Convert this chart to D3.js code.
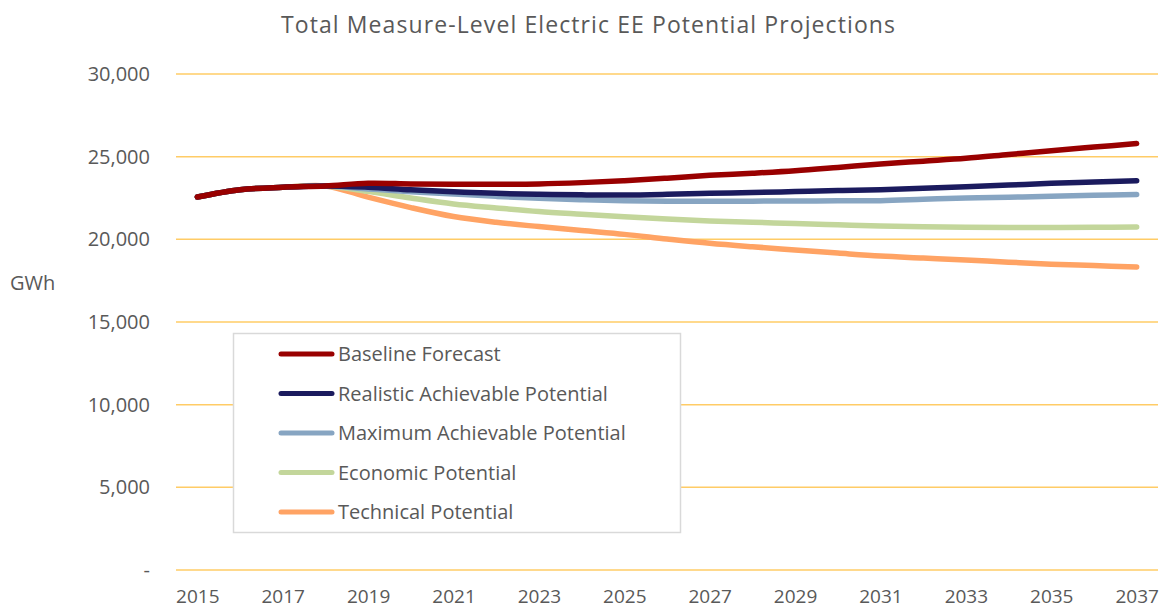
<!DOCTYPE html>
<html>
<head>
<meta charset="utf-8">
<script src="https://cdn.jsdelivr.net/npm/d3@7"></script>
<style>
  body { margin: 0; background: #fff; }
  text { font-family: "Open Sans", "Noto Sans", sans-serif; fill: #595959; }
</style>
</head>
<body>
<div id="chart"></div>
<script>
const years = d3.range(2015, 2038)
const tickYears = [2015, 2017, 2019, 2021, 2023, 2025, 2027, 2029, 2031, 2033, 2035, 2037]
const yTicks = [0, 5000, 10000, 15000, 20000, 25000, 30000]

const seriesNames = ['Baseline Forecast', 'Realistic Achievable Potential', 'Maximum Achievable Potential', 'Economic Potential', 'Technical Potential']
const seriesColors = ['#990000', '#1b1b5e', '#87a5c2', '#c3d69b', '#ffa364']

const baseline = [22560, 23000, 23150, 23230, 23390, 23350, 23330, 23330, 23350, 23430, 23550, 23700, 23870, 24000, 24150, 24350, 24560, 24730, 24900, 25130, 25360, 25580, 25790]
const realistic = [22560, 23000, 23150, 23230, 23150, 23000, 22880, 22780, 22720, 22690, 22680, 22720, 22780, 22830, 22890, 22950, 23000, 23090, 23180, 23280, 23390, 23470, 23550]
const maximum = [22560, 23000, 23150, 23230, 23050, 22880, 22740, 22600, 22480, 22400, 22340, 22310, 22300, 22310, 22320, 22330, 22340, 22420, 22500, 22550, 22600, 22660, 22710]
const economic = [22560, 23000, 23150, 23230, 22900, 22500, 22140, 21900, 21680, 21520, 21370, 21230, 21110, 21030, 20960, 20880, 20810, 20760, 20730, 20720, 20720, 20730, 20750]
const technical = [22560, 23000, 23150, 23230, 22550, 21920, 21380, 21030, 20770, 20530, 20300, 20020, 19760, 19550, 19360, 19170, 18990, 18870, 18750, 18620, 18500, 18410, 18330]

const allSeries = [baseline, realistic, maximum, economic, technical]

const w = 1162
const h = 610
const plotLeft = 176, plotRight = 1158, plotTop = 74, plotBottom = 570

const svg = d3.select('#chart')
    .append('svg')
    .attr('width', w)
    .attr('height', h)

const xScale = d3.scalePoint()
    .domain(years)
    .range([plotLeft, plotRight])
    .padding(0.5)

const yScale = d3.scaleLinear()
    .domain([0, 30000])
    .range([plotBottom, plotTop])

// title
svg.append('text')
    .attr('x', 588)
    .attr('y', 33)
    .attr('text-anchor', 'middle')
    .attr('font-size', '23px')
    .attr('textLength', 614)
    .text('Total Measure-Level Electric EE Potential Projections')

// gridlines
svg.append('g')
    .selectAll('line')
    .data(yTicks)
    .enter()
    .append('line')
    .attr('x1', plotLeft)
    .attr('x2', plotRight)
    .attr('y1', d => yScale(d))
    .attr('y2', d => yScale(d))
    .attr('stroke', '#ffcc66')
    .attr('stroke-width', 1.5)

// y axis labels
const yAxis = svg.append('g')
    .attr('transform', 'translate(' + (plotLeft - 23) + ',0)')
    .call(d3.axisLeft(yScale)
        .tickValues(yTicks)
        .tickSize(0)
        .tickFormat(d => d === 0 ? '-' : d3.format(',')(d)))
yAxis.select('.domain').remove()
yAxis.selectAll('text')
    .attr('font-size', '20px')
    .attr('font-family', '"Open Sans", sans-serif')
    .attr('fill', '#595959')

// x axis labels
const xAxis = svg.append('g')
    .attr('transform', 'translate(0,' + (plotBottom + 16) + ')')
    .call(d3.axisBottom(xScale)
        .tickValues(tickYears)
        .tickSize(0))
xAxis.select('.domain').remove()
xAxis.selectAll('text')
    .attr('font-size', '19px')
    .attr('font-family', '"Open Sans", sans-serif')
    .attr('fill', '#595959')

svg.append('text')
    .attr('x', 10)
    .attr('y', 290)
    .attr('font-size', '20px')
    .text('GWh')

// lines, drawn from the lowest series up so baseline sits on top
const line = d3.line()
    .x((d, i) => xScale(years[i]))
    .y(d => yScale(d))
    .curve(d3.curveCatmullRom.alpha(0.5))

for (let i = allSeries.length - 1; i >= 0; i--) {
    svg.append('path')
        .datum(allSeries[i])
        .attr('d', line)
        .attr('fill', 'none')
        .attr('stroke', seriesColors[i])
        .attr('stroke-width', 5.5)
        .attr('stroke-linecap', 'round')
        .attr('stroke-linejoin', 'round')
}

// legend
svg.append('rect')
    .attr('x', 233.5)
    .attr('y', 333.5)
    .attr('width', 447)
    .attr('height', 199)
    .attr('fill', '#fff')
    .attr('stroke', '#d9d9d9')
    .attr('stroke-width', 1.5)

const entries = svg.selectAll('.entry')
    .data(seriesNames)
    .enter()
    .append('g')
    .attr('class', 'entry')
    .attr('transform', (d, i) => 'translate(0,' + (354 + i * 39.5) + ')')

entries.append('line')
    .attr('x1', 281)
    .attr('x2', 332)
    .attr('stroke', (d, i) => seriesColors[i])
    .attr('stroke-width', 5)
    .attr('stroke-linecap', 'round')

entries.append('text')
    .attr('x', 338)
    .attr('y', 7)
    .attr('font-size', '20px')
    .text(d => d)
</script>
</body>
</html>
